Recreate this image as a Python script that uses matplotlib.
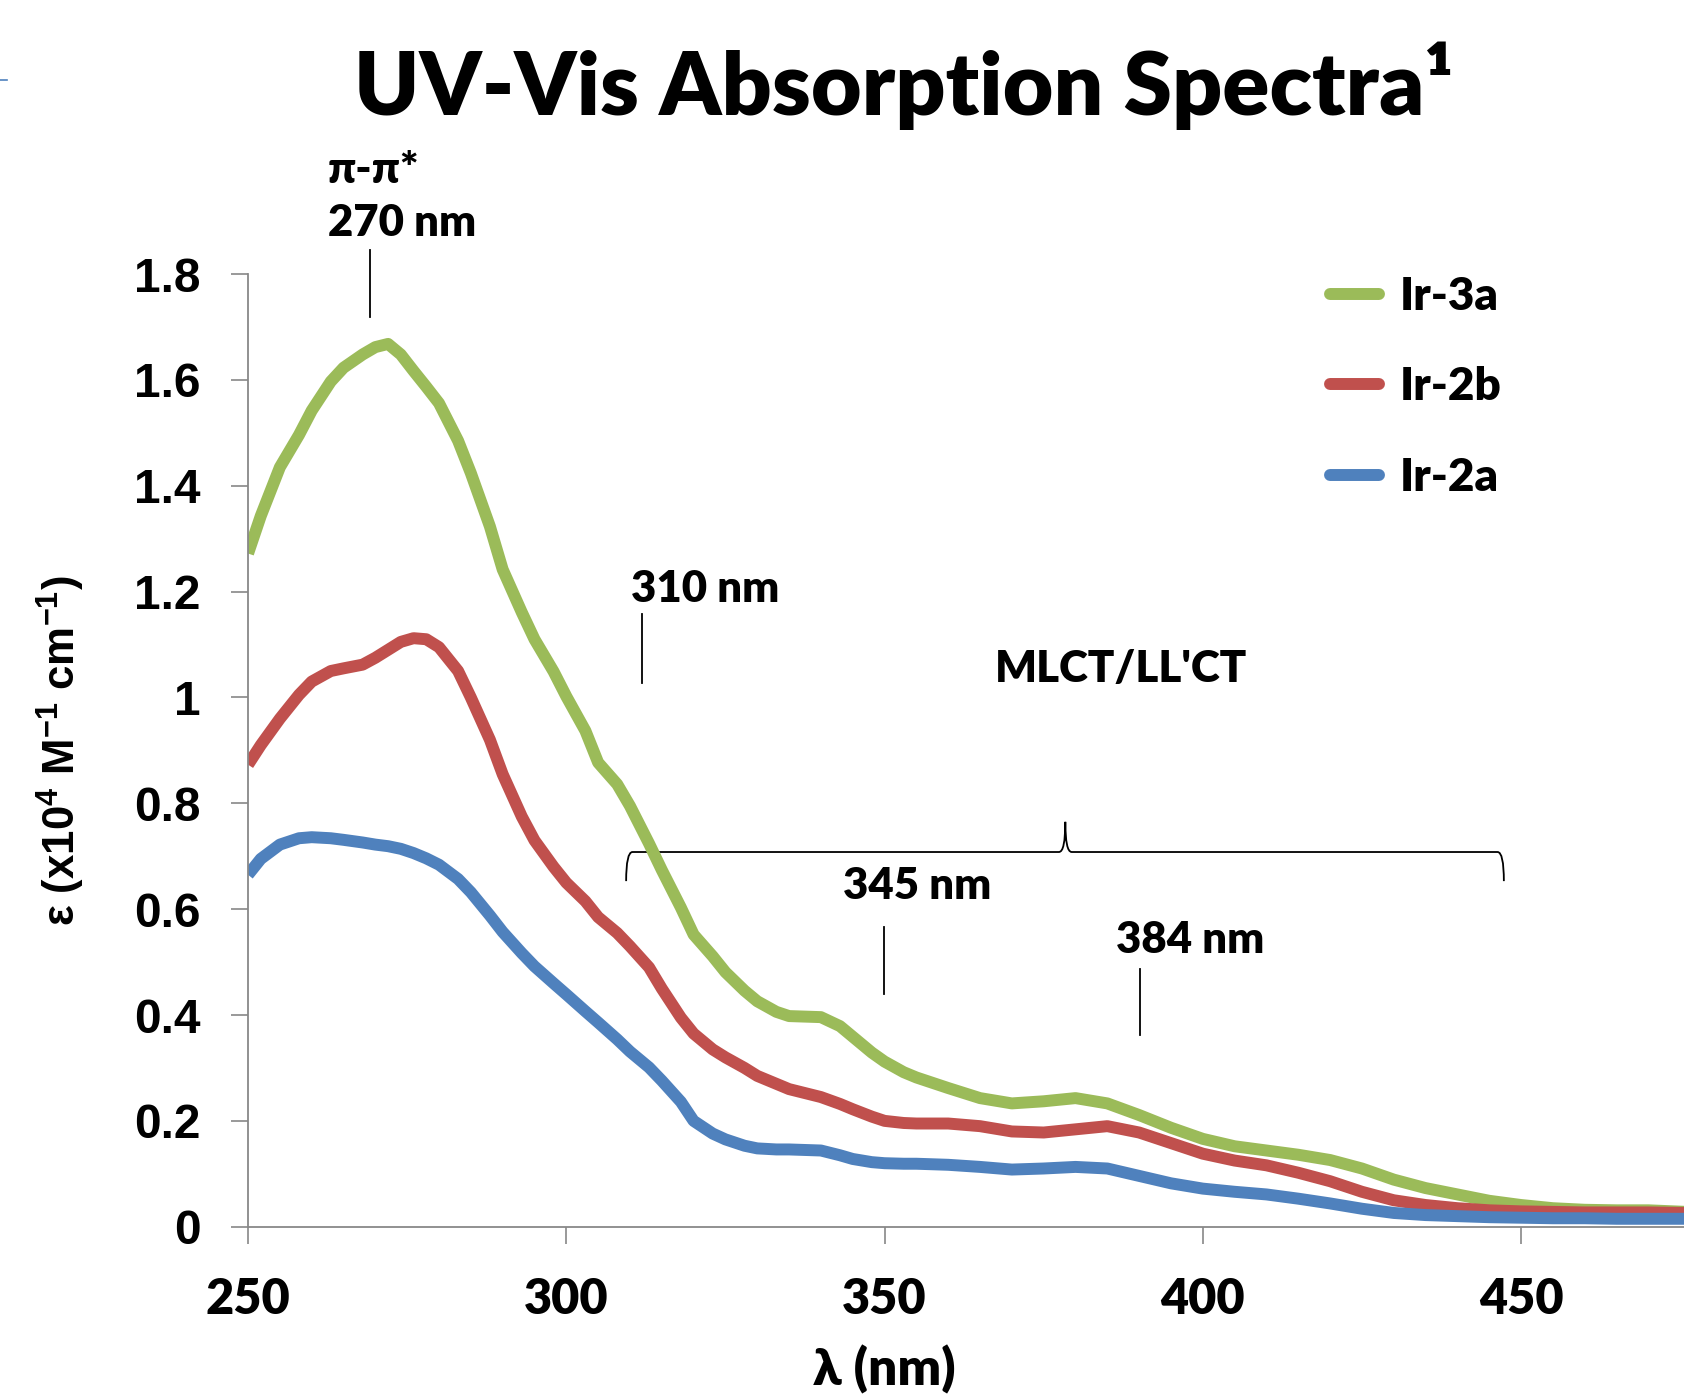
import matplotlib
matplotlib.use("Agg")
import matplotlib.pyplot as plt
from matplotlib.path import Path
from matplotlib.patches import PathPatch
from matplotlib.lines import Line2D

# ---------------- data ----------------
wavelength = [250, 252, 255, 258, 260, 263, 265, 268, 270, 272, 274, 276, 278, 280,
              283, 285, 288, 290, 293, 295, 298, 300, 303, 305, 308, 310, 313, 315,
              318, 320, 323, 325, 328, 330, 333, 335, 340, 343, 345, 348, 350, 353,
              355, 360, 365, 370, 375, 380, 385, 390, 395, 400, 405, 410, 415, 420,
              425, 430, 435, 440, 445, 450, 455, 460, 465, 470, 476]

ir3a = [1.272, 1.343, 1.435, 1.496, 1.542, 1.597, 1.623, 1.648, 1.662, 1.668, 1.648,
        1.617, 1.587, 1.556, 1.485, 1.424, 1.323, 1.242, 1.161, 1.110, 1.049, 1.002,
        0.937, 0.877, 0.836, 0.795, 0.724, 0.674, 0.603, 0.552, 0.511, 0.481, 0.446,
        0.426, 0.406, 0.398, 0.396, 0.379, 0.359, 0.329, 0.312, 0.292, 0.282, 0.262,
        0.243, 0.233, 0.237, 0.243, 0.233, 0.211, 0.187, 0.166, 0.152, 0.144, 0.136,
        0.126, 0.110, 0.089, 0.073, 0.061, 0.049, 0.041, 0.035, 0.032, 0.031, 0.031,
        0.028]

ir2b = [0.873, 0.910, 0.960, 1.005, 1.030, 1.050, 1.055, 1.062, 1.075, 1.090, 1.105,
        1.112, 1.110, 1.095, 1.050, 1.000, 0.920, 0.855, 0.775, 0.730, 0.680, 0.650,
        0.615, 0.585, 0.555, 0.530, 0.490, 0.450, 0.395, 0.365, 0.335, 0.320, 0.300,
        0.285, 0.270, 0.260, 0.245, 0.232, 0.222, 0.208, 0.200, 0.196, 0.195, 0.195,
        0.190, 0.180, 0.178, 0.184, 0.190, 0.178, 0.158, 0.138, 0.125, 0.116, 0.102,
        0.086, 0.066, 0.050, 0.041, 0.035, 0.031, 0.029, 0.028, 0.027, 0.027, 0.027,
        0.026]

ir2a = [0.665, 0.695, 0.722, 0.734, 0.736, 0.734, 0.731, 0.726, 0.722, 0.719, 0.714,
        0.706, 0.696, 0.684, 0.657, 0.632, 0.588, 0.557, 0.517, 0.492, 0.460, 0.439,
        0.407, 0.386, 0.354, 0.331, 0.301, 0.276, 0.236, 0.200, 0.176, 0.165, 0.153,
        0.148, 0.146, 0.146, 0.144, 0.135, 0.128, 0.122, 0.120, 0.119, 0.119, 0.117,
        0.113, 0.108, 0.110, 0.113, 0.110, 0.096, 0.082, 0.072, 0.066, 0.061, 0.053,
        0.044, 0.034, 0.026, 0.022, 0.020, 0.018, 0.017, 0.016, 0.016, 0.015, 0.015,
        0.015]

series_names = ["Ir-3a", "Ir-2b", "Ir-2a"]
series_colors = ["#9BBB59", "#C0504D", "#4F81BD"]

x_ticks = [250, 300, 350, 400, 450]
y_ticks = [0, 0.2, 0.4, 0.6, 0.8, 1.0, 1.2, 1.4, 1.6, 1.8]
y_ticklabels = ["0", "0.2", "0.4", "0.6", "0.8", "1", "1.2", "1.4", "1.6", "1.8"]

# annotations: (text, x, y)
labels = [("π-π*", 262.5, 1.997), ("270 nm", 262.5, 1.897), ("310 nm", 310.2, 1.205),
          ("MLCT/LL'CT", 367.3, 1.053), ("345 nm", 343.5, 0.643), ("384 nm", 386.3, 0.542)]
markers = [(269.1, 1.719, 1.845), (311.9, 1.027, 1.157), (349.9, 0.440, 0.566),
           (390.2, 0.363, 0.487)]
brace = dict(x0=309.4, x1=447.3, xm=378.4, y=0.708, ylow=0.653, ytop=0.765)

# ---------------- figure ----------------
plt.rcParams['mathtext.default'] = 'regular'
CAL = ['Lato', 'DejaVu Sans']

fig = plt.figure(figsize=(16.84, 13.94), dpi=100)
ax = fig.add_axes([0.1473, 0.120, 1.0 - 0.1473, 0.8034 - 0.120])

for vals, name, col in zip([ir3a, ir2b, ir2a], series_names, series_colors):
    ax.plot(wavelength, vals, color=col, lw=8.6, label=name,
            solid_capstyle='butt', solid_joinstyle='round')

ax.set_xlim(250, 475.6)
ax.set_ylim(0, 1.8)
ax.set_xticks(x_ticks)
ax.set_yticks(y_ticks)
ax.set_yticklabels(y_ticklabels)

for s in ['top', 'right']:
    ax.spines[s].set_visible(False)
for s in ['left', 'bottom']:
    ax.spines[s].set_color('#888888')
    ax.spines[s].set_linewidth(1.3)
ax.tick_params(axis='both', direction='out', length=12, width=1.2, color='#888888')
ax.tick_params(axis='x', pad=24)
ax.tick_params(axis='y', pad=22)
for t in ax.get_xticklabels():
    t.set_fontfamily(CAL); t.set_fontweight('heavy'); t.set_fontsize(35)
for t in ax.get_yticklabels():
    t.set_fontfamily(['Liberation Sans', 'DejaVu Sans']); t.set_fontweight('bold'); t.set_fontsize(34.5)

ax.set_xlabel("λ (nm)", fontfamily=CAL, fontweight='heavy', fontsize=37)
ax.xaxis.set_label_coords((350 - 250) / (475.6 - 250), -0.124)
ax.set_ylabel("ε (x10$^4$ M$^{-1}$ cm$^{-1}$)", fontfamily=['Liberation Sans', 'DejaVu Sans'],
              fontweight='bold', fontsize=31.5, labelpad=34)

# title
fig.text(904 / 1684, 1 - 86 / 1394, "UV-Vis Absorption Spectra¹", ha='center', va='center',
         fontfamily=CAL, fontweight='heavy', fontsize=63)

# annotations
for txt, x, y in labels:
    ax.text(x, y, txt, ha='left', va='center', fontfamily=CAL, fontweight='heavy',
            fontsize=31.5, clip_on=False)
for x, y0, y1 in markers:
    ax.plot([x, x], [y0, y1], color='black', lw=1.3, clip_on=False)

b = brace
d = 1.0
verts = [(b['x0'], b['ylow']), (b['x0'], b['y']), (b['x0'] + d, b['y']),
         (b['xm'] - d, b['y']), (b['xm'], b['y']), (b['xm'], b['ytop']),
         (b['xm'], b['y']), (b['xm'] + d, b['y']),
         (b['x1'] - d, b['y']), (b['x1'], b['y']), (b['x1'], b['ylow'])]
codes = [Path.MOVETO, Path.CURVE3, Path.CURVE3, Path.LINETO, Path.CURVE3, Path.CURVE3,
         Path.CURVE3, Path.CURVE3, Path.LINETO, Path.CURVE3, Path.CURVE3]
ax.add_patch(PathPatch(Path(verts, codes), fill=False, edgecolor='black', lw=1.3,
                       clip_on=False))

# legend
leg = ax.legend(loc='upper left', bbox_to_anchor=(1330 / 1684, 1 - 276 / 1394),
                bbox_transform=fig.transFigure, frameon=False, prop={'family': CAL,
                'weight': 'heavy', 'size': 33}, handlelength=1.07, handletextpad=0.45,
                labelspacing=1.08, borderpad=0, borderaxespad=0)
for h in leg.get_lines():
    h.set_solid_capstyle('round')

# small stray mark at top-left
fig.add_artist(Line2D([0, 7 / 1684], [1 - 80 / 1394, 1 - 80 / 1394], color='#4F81BD', lw=1.2))

fig.savefig("out.png", dpi=100)
